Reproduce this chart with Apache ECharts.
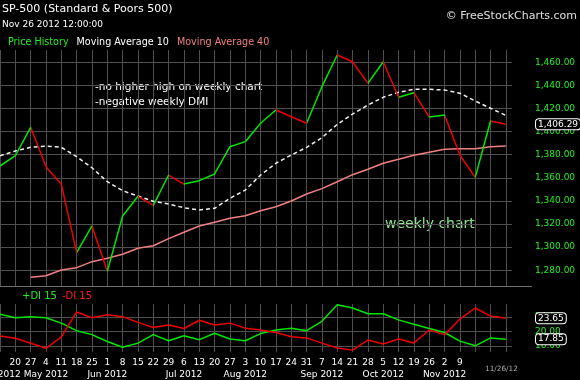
<!DOCTYPE html>
<html><head><meta charset="utf-8">
<script src="https://cdn.jsdelivr.net/npm/echarts@6/dist/echarts.min.js"></script>
<style>html,body{margin:0;padding:0;background:#000}#c{width:580px;height:380px}</style>
</head><body><div id="c"></div>
<script>
// ---- data (weekly, Apr 13 2012 .. week of Nov 26 2012) ----
const dayLabels = ['', '20','27','4','11','18','25','1','8','15','22','29','6','13','20','27','3','10','17','24','31','7','14','21','28','5','12','19','26','2','9','','',''];
const monthLabels = ['Apr 2012','','','May 2012','','','','Jun 2012','','','','','Jul 2012','','','','Aug 2012','','','','','Sep 2012','','','','Oct 2012','','','','Nov 2012','','','',''];
const price = [1370.2,1379.1,1403.7,1369.6,1354.4,1295.2,1318.3,1279.0,1326.9,1344.0,1336.2,1362.4,1354.6,1357.5,1363.3,1386.9,1391.3,1407.2,1418.7,1412.9,1407.2,1438.9,1466.3,1460.5,1441.8,1460.5,1429.7,1433.7,1412.6,1414.4,1379.7,1360.4,1409.2,1406.29];
const ma10 = [1379.0,1383.2,1386.4,1387.5,1386.4,1378.3,1368.7,1356.6,1348.8,1344.2,1339.7,1337.3,1334.1,1332.1,1333.6,1342.2,1349.4,1362.4,1372.6,1379.7,1386.4,1394.7,1406.3,1415.2,1423.0,1429.7,1434.0,1436.6,1436.6,1436.0,1433.2,1426.5,1420.2,1414.0];
const ma40 = [null,null,1273.8,1275.2,1280.2,1282.2,1287.4,1290.3,1293.8,1299.0,1301.2,1307.3,1312.8,1318.3,1321.5,1324.9,1327.2,1331.5,1335.0,1339.9,1346.0,1350.6,1356.6,1362.7,1367.4,1372.6,1376.0,1379.5,1382.1,1384.7,1385.2,1385.2,1386.9,1387.5];
const diPlus = [24.8,23.8,24.1,23.8,22.3,20.2,19.1,17.2,15.6,16.75,19.1,17.4,18.8,17.7,19.5,17.9,17.4,19.4,20.4,20.9,20.2,22.8,27.4,26.5,24.9,24.9,23.2,22.0,20.8,19.7,17.3,16.0,18.2,17.85];
const diMinus = [18.7,18.1,16.7,15.3,18.5,25.4,23.8,24.6,24.1,22.5,21.1,21.75,20.8,23.1,21.8,22.3,20.9,20.4,19.7,18.5,18.2,16.75,15.4,14.8,17.6,16.5,17.9,16.8,20.4,19.1,23.4,26.5,24.25,23.65];

const FONT = 'DejaVu Sans';
const GREEN = '#00e600', RED = '#ee0000', SALMON = '#f08080', GRIDC = '#4e4e4e', LABELG = '#22ee22';
const X_MAX = 33.4, PLOT_W = 512;
const fmtNum = v => v.toFixed(2).replace(/\B(?=(\d{3})+(?!\d))/g, ',');
const pairs = arr => arr.map((v, i) => [i, v]).filter(p => p[1] != null);

const pieces = [];
for (let i = 0; i < price.length - 1; i++) {
  pieces.push({ gte: i, lt: i + 1, color: price[i + 1] >= price[i] ? GREEN : RED });
}

function xAx(gridIndex, extra) {
  return Object.assign({
    type: 'value', gridIndex, min: 0, max: X_MAX, interval: 1,
    axisLine: { show: false }, axisTick: { show: false },
    axisLabel: { show: false }, splitLine: { show: false }
  }, extra || {});
}
const vSplit = { show: true, showMaxLine: false, lineStyle: { color: GRIDC, width: 1 } };
const labelAt = arr => v => {
  const i = Math.round(v);
  if (Math.abs(v - i) > 1e-6 || i < 0 || i >= arr.length) return '';
  return arr[i];
};
const tickText = { color: '#fff', fontSize: 9, lineHeight: 11.3, fontFamily: FONT, showMaxLabel: false };

function endMark(value, text) {
  return {
    silent: true, symbol: ['none', 'none'], animation: false,
    lineStyle: { color: 'transparent', width: 1, type: 'solid' },
    label: {
      show: true, position: 'end', distance: 24, formatter: text,
      color: '#fff', fontFamily: FONT, fontSize: 9,
      backgroundColor: '#000', borderColor: '#fff', borderWidth: 1, borderRadius: 3,
      padding: [1, 2, 0, 2]
    },
    emphasis: { disabled: true },
    data: [{ yAxis: value }]
  };
}
const G = (top, height) => ({ left: 0, top, width: PLOT_W, height, outerBoundsMode: 'none', containLabel: false });

const option = {
  backgroundColor: '#000',
  animation: false,
  textStyle: { fontFamily: FONT },
  title: [
    { text: 'SP-500 (Standard & Poors 500)', subtext: 'Nov 26 2012 12:00:00', left: 2, top: 3, padding: 0, itemGap: 3.5,
      textStyle: { color: '#fff', fontSize: 11, fontWeight: 'normal', lineHeight: 13, fontFamily: FONT },
      subtextStyle: { color: '#fff', fontSize: 9, lineHeight: 11, fontFamily: FONT } },
    { text: '\u00a9 FreeStockCharts.com', right: 3, top: 10, padding: 0,
      textStyle: { color: '#e0e0e0', fontSize: 11, fontWeight: 'normal', lineHeight: 13, fontFamily: FONT } }
  ],
  legend: [
    { left: 3, top: 37, padding: 0, itemGap: 3, itemWidth: 0, itemHeight: 10, icon: 'none', selectedMode: false,
      textStyle: { fontSize: 9.6, fontFamily: FONT },
      data: [
        { name: 'Price History', textStyle: { color: LABELG } },
        { name: 'Moving Average 10', textStyle: { color: '#ffffff' } },
        { name: 'Moving Average 40', textStyle: { color: SALMON } }
      ] },
    { left: 17, top: 291, padding: 0, itemGap: 0, itemWidth: 0, itemHeight: 10, icon: 'none', selectedMode: false,
      textStyle: { fontSize: 10, fontFamily: FONT },
      data: [
        { name: '+DI 15', textStyle: { color: LABELG } },
        { name: '-DI 15', textStyle: { color: '#ff1a1a' } }
      ] }
  ],
  grid: [
    G(50, 236),      // price frame (vertical grid lines)
    G(39.2, 254.1),  // price values 1260..1480
    G(304, 48),      // DMI frame (vertical grid lines, date labels)
    G(302.6, 57.6)   // DMI values 12..28
  ],
  xAxis: [
    xAx(0, { splitLine: vSplit }),
    xAx(1),
    xAx(2, { splitLine: vSplit,
      axisLabel: Object.assign({ show: true, margin: 5.4, showMinLabel: false, formatter: labelAt(dayLabels) }, tickText) }),
    xAx(3),
    xAx(2, { position: 'bottom', offset: 11.3,
      axisLabel: Object.assign({ show: true, margin: 5.4, showMinLabel: true, formatter: labelAt(monthLabels) }, tickText) })
  ],
  yAxis: [
    { type: 'value', gridIndex: 0, show: false },
    { type: 'value', gridIndex: 1, position: 'right', min: 1260, max: 1480, interval: 20,
      axisLine: { show: false }, axisTick: { show: false },
      axisLabel: { margin: 23, color: LABELG, fontSize: 9, fontFamily: FONT, showMinLabel: false, showMaxLabel: false, formatter: fmtNum },
      splitLine: { show: true, showMinLine: false, showMaxLine: false, lineStyle: { color: GRIDC, width: 1 } } },
    { type: 'value', gridIndex: 2, show: false },
    { type: 'value', gridIndex: 3, position: 'right', min: 12, max: 28, interval: 4,
      axisLine: { show: false }, axisTick: { show: false },
      axisLabel: { margin: 23, color: LABELG, fontSize: 9, fontFamily: FONT, showMinLabel: false, showMaxLabel: false, formatter: v => v.toFixed(2) },
      splitLine: { show: true, showMinLine: false, showMaxLine: false, lineStyle: { color: GRIDC, width: 1 } } }
  ],
  visualMap: [
    { type: 'piecewise', show: false, seriesIndex: 0, dimension: 0, pieces, outOfRange: { color: GREEN } }
  ],
  series: [
    { name: 'Price History', type: 'line', xAxisIndex: 1, yAxisIndex: 1, data: pairs(price),
      symbol: 'none', lineStyle: { width: 1.5 }, z: 4,
      markLine: endMark(price[price.length - 1], fmtNum(price[price.length - 1])) },
    { name: 'Moving Average 10', type: 'line', xAxisIndex: 1, yAxisIndex: 1, data: pairs(ma10),
      symbol: 'none', itemStyle: { color: '#fff' }, lineStyle: { color: '#f0f0f0', width: 1.5, type: [4, 3] } },
    { name: 'Moving Average 40', type: 'line', xAxisIndex: 1, yAxisIndex: 1, data: pairs(ma40),
      symbol: 'none', itemStyle: { color: SALMON }, lineStyle: { color: SALMON, width: 1.5 } },
    { name: '+DI 15', type: 'line', xAxisIndex: 3, yAxisIndex: 3, data: pairs(diPlus),
      symbol: 'none', itemStyle: { color: GREEN }, lineStyle: { color: GREEN, width: 1.5 },
      markLine: endMark(diPlus[diPlus.length - 1], diPlus[diPlus.length - 1].toFixed(2)) },
    { name: '-DI 15', type: 'line', xAxisIndex: 3, yAxisIndex: 3, data: pairs(diMinus),
      symbol: 'none', itemStyle: { color: RED }, lineStyle: { color: RED, width: 1.5 },
      markLine: endMark(diMinus[diMinus.length - 1], diMinus[diMinus.length - 1].toFixed(2)) }
  ],
  graphic: [
    { type: 'line', silent: true, shape: { x1: 0, y1: 286.5, x2: 532, y2: 286.5 }, style: { stroke: '#707070', lineWidth: 1 } },
    { type: 'text', x: 95, y: 87.3, silent: true, style: { text: '-no higher high on weekly chart', fill: '#fff', fontSize: 10.5, fontFamily: FONT, verticalAlign: 'middle' } },
    { type: 'text', x: 95, y: 102.7, silent: true, style: { text: '-negative weekly DMI', fill: '#fff', fontSize: 10.5, fontFamily: FONT, verticalAlign: 'middle' } },
    { type: 'text', x: 385, y: 224, silent: true, style: { text: 'weekly chart', fill: '#8ee88e', fontSize: 14, fontFamily: FONT, verticalAlign: 'middle' } },
    { type: 'text', x: 485, y: 369.5, silent: true, style: { text: '11/26/12', fill: '#b0b0b0', fontSize: 7.3, fontFamily: FONT, verticalAlign: 'middle' } }
  ]
};
const chart = echarts.init(document.getElementById('c'), null, { renderer: 'canvas' });
chart.setOption(option);
</script>
</body></html>
